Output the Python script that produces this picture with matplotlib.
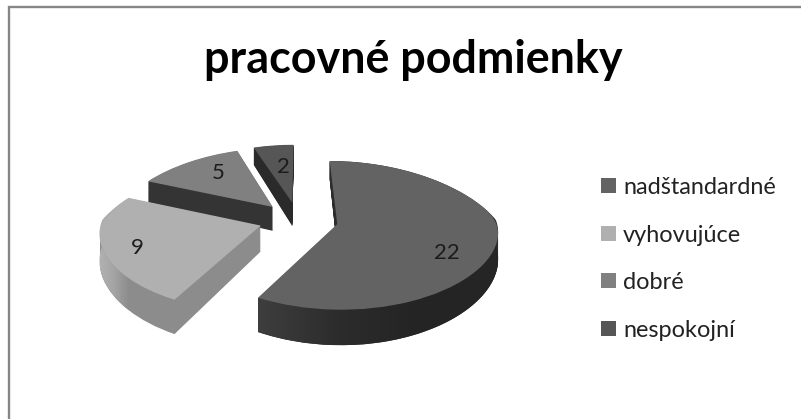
import numpy as np
import matplotlib
matplotlib.use("Agg")
import matplotlib.pyplot as plt
from matplotlib.colors import LinearSegmentedColormap
from matplotlib.path import Path
from matplotlib.transforms import Transform

title = "pracovné podmienky"
categories = ["nadštandardné", "vyhovujúce", "dobré", "nespokojní"]
values = [22, 9, 5, 2]
top_colors = ["#636363", "#b0b0b0", "#808080", "#565656"]
side_colors = ["#2c2c2c", "#8c8c8c", "#343434", "#2a2a2a"]
explode = [0.25] * 4
label_xy = [(447, 253), (137, 248), (218, 173), (283, 167)]
# outer-wall shading, left to right, for the two slices whose wall faces the viewer
wall_shades = {0: ["#3e3e3e", "#2c2c2c", "#242424", "#262626"],
               1: ["#b2b2b2", "#a4a4a4", "#8c8c8c"]}

plt.rcParams["font.family"] = ["Lato", "DejaVu Sans"]
fig = plt.figure(figsize=(8.01, 4.19), dpi=100, facecolor="white")
ax = fig.add_axes([0, 0, 1, 1])

CX, CY, RX, RY = 298.5, 219.7, 159, 71.3
PX_BACK, PX_FRONT, PY = 0.25, 0.09, 0.15
DEPTH0, DEPTH_SLOPE, YREF = 17, 0.113, 146
LAYERS = 36
draw_order = [1.0, 3.0, 0.5, 0.0]  # slices further back are painted first


class Perspective(Transform):
    """Tilted-pie projection from unit pie coordinates to picture pixels."""
    input_dims = 2
    output_dims = 2
    has_inverse = False
    is_separable = False

    def __init__(self, t):
        super().__init__()
        self.t = t

    def transform_non_affine(self, xy):
        xy = np.asarray(xy, dtype=float)
        u, v = xy[:, 0], xy[:, 1]
        wx = 1 + np.where(v > 0, PX_BACK, PX_FRONT) * v
        x = CX + RX * u / wx
        y = CY - RY * v / (1 + PY * v)
        y = y + self.t * (DEPTH0 + (y - YREF) * DEPTH_SLOPE)
        return np.column_stack([x, y])


legend_handles = None
for k in range(LAYERS, -1, -1):
    t = k / LAYERS
    colors = top_colors if k == 0 else side_colors
    wedges, _ = ax.pie(values, explode=explode, colors=colors, startangle=90,
                       counterclock=False, radius=1, wedgeprops={"linewidth": 0})
    for i, w in enumerate(wedges):
        w.set_transform(Perspective(t) + ax.transData)
        w.set_clip_on(False)
        w.set_zorder(draw_order[i] + (0.5 if k == 0 else 0.4 * (1 - t)))
    if k == 0:
        legend_handles = wedges

# shaded outer walls, following the same wedges
for i, shades in wall_shades.items():
    w = legend_handles[i]
    th = np.radians(np.linspace(w.theta1, w.theta2, 120))
    arc = np.column_stack([w.center[0] + np.cos(th), w.center[1] + np.sin(th)])
    upper = Perspective(0).transform_non_affine(arc)
    lower = Perspective(1).transform_non_affine(arc)
    poly = np.vstack([upper, lower[::-1], upper[:1]])
    x0, x1 = poly[:, 0].min(), poly[:, 0].max()
    y0, y1 = poly[:, 1].min(), poly[:, 1].max()
    if i == 1:
        x1 = Perspective(0).transform_non_affine(arc)[0, 0]
    cmap = LinearSegmentedColormap.from_list(f"wall{i}", shades)
    im = ax.imshow(np.linspace(0, 1, 256)[None, :], cmap=cmap, aspect="auto",
                   extent=(x0, x1, y1, y0), zorder=draw_order[i] + 0.45)
    im.set_clip_path(Path(poly), ax.transData)

ax.set_aspect("auto")
ax.set_xlim(0, 801)
ax.set_ylim(419, 0)
ax.set_axis_off()

for v, (x, y) in zip(values, label_xy):
    ax.text(x, y, str(v), ha="center", va="center", fontsize=16, color="#1c1c1c", zorder=10)

ax.text(413, 60, title, ha="center", va="center", fontsize=32.3, fontweight="bold", color="black", zorder=10)

leg = ax.legend(legend_handles, categories, loc="upper left", bbox_to_anchor=(601 / 801, 1 - 177 / 419),
                frameon=False, fontsize=16.9, labelcolor="#222222", handlelength=0.64, handleheight=0.62,
                handletextpad=0.3, labelspacing=1.13, borderpad=0, borderaxespad=0)

# the chart frame shows only on its left and top sides in this crop
ax.plot([9.2, 9.2, 801], [419, 7, 7], color="#868686", linewidth=1.7, solid_joinstyle="miter", zorder=20)

fig.savefig("out.png", dpi=100)
